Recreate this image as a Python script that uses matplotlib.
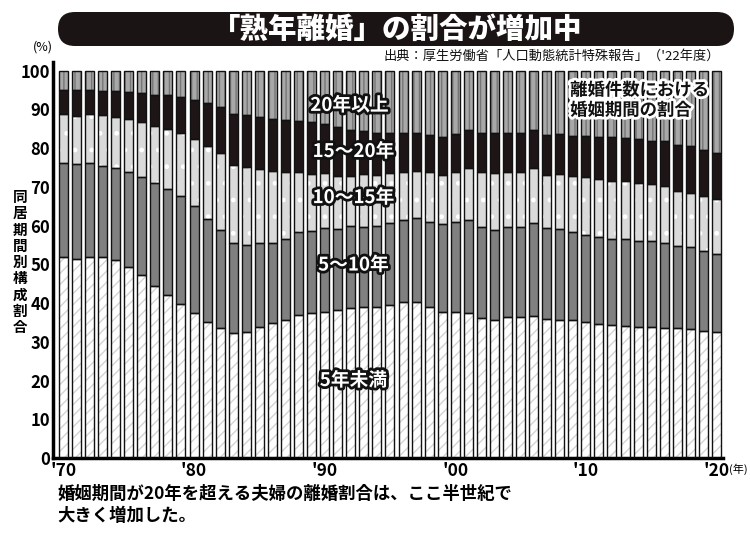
import matplotlib
matplotlib.use("Agg")
import matplotlib.pyplot as plt
import matplotlib.patheffects as pe
from matplotlib.patches import FancyBboxPatch
import numpy as np

plt.rcParams['font.family'] = ['Noto Sans CJK JP', 'DejaVu Sans']
plt.rcParams['hatch.linewidth'] = 1.0

years = list(range(1970, 2021))
# cumulative tops of each band (%)
top_lt5 = [51.8, 51.3, 51.8, 51.8, 51.0, 49.4, 47.3, 44.5, 42.0, 39.7,
           37.4, 35.0, 33.5, 32.2, 32.6, 33.9, 34.8, 35.7, 37.0, 37.4,
           37.8, 38.3, 38.7, 38.9, 39.0, 39.6, 40.2, 40.2, 39.0, 37.8,
           37.8, 37.3, 36.1, 35.7, 36.4, 36.5, 36.7, 35.9, 35.7, 35.5,
           35.0, 34.7, 34.4, 34.1, 33.8, 33.8, 33.5, 33.5, 33.3, 32.9,
           32.4]
top_5_10 = [76.1, 75.9, 76.2, 75.4, 74.9, 73.9, 72.6, 70.9, 69.3, 67.7,
            65.1, 61.7, 58.8, 55.5, 54.9, 55.5, 55.6, 56.5, 58.2, 58.7,
            59.3, 59.1, 59.8, 59.6, 60.0, 60.6, 61.3, 61.9, 61.0, 60.4,
            61.0, 61.5, 59.6, 58.9, 59.6, 59.6, 60.6, 59.3, 59.1, 58.2,
            57.6, 57.0, 56.5, 56.5, 56.1, 55.9, 55.5, 54.8, 54.4, 53.5,
            52.7]
top_10_15 = [88.7, 88.3, 88.9, 88.5, 88.0, 87.4, 86.8, 85.7, 85.0, 83.8,
             82.3, 80.4, 78.6, 75.6, 75.1, 74.7, 74.1, 73.7, 73.9, 73.3,
             73.5, 72.8, 72.7, 73.3, 73.1, 73.5, 73.7, 74.1, 73.7, 73.1,
             73.9, 74.8, 73.7, 73.5, 73.9, 73.7, 74.8, 73.1, 73.3, 72.7,
             72.4, 72.0, 71.4, 71.4, 71.1, 70.7, 70.1, 68.8, 68.5, 67.5,
             66.8]
top_15_20 = [95.0, 95.0, 95.1, 94.8, 94.6, 94.4, 94.2, 93.8, 93.6, 93.1,
             92.4, 91.7, 90.6, 88.9, 88.5, 88.0, 87.4, 87.3, 87.1, 86.8,
             86.2, 85.3, 84.7, 84.4, 83.8, 83.8, 84.0, 83.8, 83.4, 82.9,
             83.6, 84.6, 83.8, 83.8, 84.0, 84.0, 84.7, 83.4, 83.6, 83.1,
             83.1, 82.8, 82.8, 82.5, 82.3, 81.9, 81.7, 80.7, 80.4, 79.5,
             78.7]
top_all = [100.0] * len(years)

band_names = ['5年未満', '5～10年', '10～15年', '15～20年', '20年以上']
tick_years = [1970, 1980, 1990, 2000, 2010, 2020]
tick_labels = ["'70", "'80", "'90", "'00", "'10", "'20"]
ytick_vals = [0, 10, 20, 30, 40, 50, 60, 70, 80, 90, 100]

tops = [top_lt5, top_5_10, top_10_15, top_15_20, top_all]
styles = [
    dict(face='#ffffff', hatch='///', hcol='#d4d4d4'),
    dict(face='#808080', hatch=None, hcol='#808080'),
    dict(face='#dadada', hatch='.', hcol='#ffffff'),
    dict(face='#1e1616', hatch=None, hcol='#1e1616'),
    dict(face='#a8a8a8', hatch='|||', hcol='#767676'),
]

W, H = 750, 536
fig = plt.figure(figsize=(W / 100, H / 100), dpi=100)

# overlay in pixel coordinates for title box and free texts
ov = fig.add_axes([0, 0, 1, 1])
ov.set_xlim(0, W)
ov.set_ylim(H, 0)
ov.axis('off')

ax = fig.add_axes([53 / W, 78 / H, 670 / W, (458 - 62) / H])

x = np.array(years, dtype=float)
bw = 0.69
bottom = np.zeros(len(years))
for t, st in zip(tops, styles):
    t = np.array(t)
    h = t - bottom
    ax.bar(x, h, bw, bottom=bottom, color=st['face'], edgecolor=st['hcol'],
           hatch=st['hatch'], linewidth=0, zorder=2)
    ax.bar(x, h, bw, bottom=bottom, fill=False, edgecolor='#111111',
           linewidth=1.0, zorder=3)
    bottom = t

ax.set_xlim(1969.2, 2020.5)
ax.set_ylim(0, 102.2)
for s in ['top', 'right']:
    ax.spines[s].set_visible(False)
ax.spines['left'].set_linewidth(2.5)
ax.spines['bottom'].set_linewidth(2.5)
ax.set_xticks(tick_years)
ax.set_xticklabels(tick_labels, fontsize=12.5, fontweight='bold')
ax.set_yticks(ytick_vals)
ax.set_yticklabels([str(v) for v in ytick_vals], fontsize=12, fontweight='bold')
ax.tick_params(length=0, pad=2)
ax.tick_params(axis='x', pad=3)
ax.patch.set_alpha(0)

# series labels inside chart
stroke_w = [pe.withStroke(linewidth=4, foreground='#111111')]
lbl_pos = [(1992.2, 20.0), (1992.2, 49.8), (1992.2, 67.2), (1992.2, 79.1), (1991.9, 91.0)]
for name, (lx, ly) in zip(band_names, lbl_pos):
    ax.text(lx, ly, name, color='white', fontsize=13.5, fontweight='bold',
            ha='center', va='center', path_effects=stroke_w, zorder=5)

ax.text(2008.8, 92.3, '離婚件数における\n婚姻期間の割合', color='#111111',
        fontsize=12.5, fontweight='bold', ha='left', va='center', linespacing=1.15,
        path_effects=[pe.withStroke(linewidth=4, foreground='white')], zorder=5)

# title box (pill)
box = FancyBboxPatch((58, 12), 676, 34,
                     boxstyle='round,pad=0,rounding_size=17',
                     facecolor='#1a1414', edgecolor='none')
ov.add_patch(box)
ov.text(397, 29, '「熟年離婚」の割合が増加中', color='white',
        fontsize=20.5, fontweight='heavy', ha='center', va='center')

ov.text(720, 56, '出典：厚生労働省「人口動態統計特殊報告」（\'22年度）',
        fontsize=9.5, ha='right', va='center', color='#111111')
ov.text(43, 47, '(%)', fontsize=9, ha='center', va='center')
ov.text(738, 469, '(年)', fontsize=8, ha='center', va='center')

ov.text(20, 262, '\n'.join('同居期間別構成割合'), fontsize=10.5,
        fontweight='bold', ha='center', va='center', linespacing=1.02)

ov.text(57, 505,
        '婚姻期間が20年を超える夫婦の離婚割合は、ここ半世紀で\n大きく増加した。',
        fontsize=12.5, fontweight='bold', ha='left', va='center', linespacing=1.25)

fig.savefig('out.png', dpi=100, facecolor='white')
